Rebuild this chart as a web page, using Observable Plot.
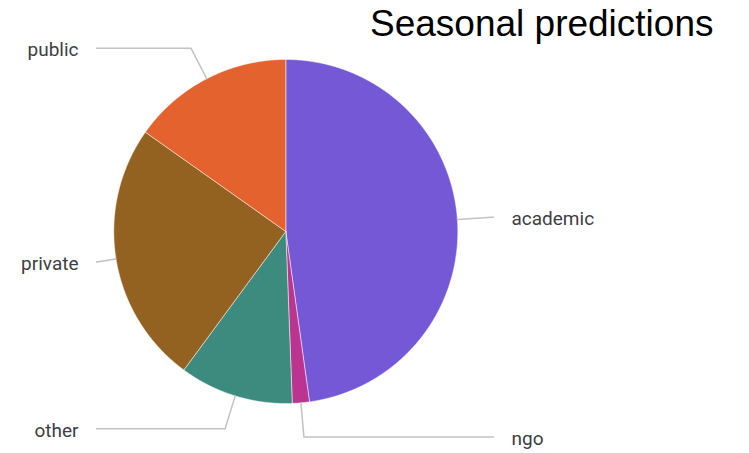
<!DOCTYPE html>
<html>
<head>
<meta charset="utf-8">
<script src="https://cdn.jsdelivr.net/npm/d3@7"></script>
<script src="https://cdn.jsdelivr.net/npm/@observablehq/plot@0.6"></script>
<style>
  body { margin: 0; background: #fff; }
</style>
</head>
<body>
<div id="chart"></div>
<script>
// Share of seasonal predictions by sector (percent), clockwise from 12 o'clock
const categories = ["academic", "ngo", "other", "private", "public"];
const shares = [47.8, 1.6, 10.7, 24.7, 15.2];
const colors = ["#7458d6", "#ba3490", "#3d8a7e", "#936221", "#e3622d"];
const title = "Seasonal predictions";

const W = 749, H = 453;
const cx = 285.3, cy = 231, R = 172;

const arcs = d3.pie().sort(null).value(d => d.value)(
  categories.map((c, i) => ({category: c, value: shares[i]}))
);

// Each slice as a closed polygon in unit coordinates (radius 1)
const slicePoints = [];
for (const a of arcs) {
  const c = a.data.category;
  const n = Math.max(2, Math.ceil((a.endAngle - a.startAngle) / 0.004));
  slicePoints.push({category: c, x: 0, y: 0});
  for (let k = 0; k <= n; k++) {
    const t = a.startAngle + (a.endAngle - a.startAngle) * k / n;
    slicePoints.push({category: c, x: Math.sin(t), y: Math.cos(t)});
  }
  slicePoints.push({category: c, x: 0, y: 0});
}

// Leader lines: radial out from the slice edge, then horizontal to the label column
const leaderR = 1.2, leftEnd = -1.1, rightEnd = 1.207, gap = 0.105;
const leaders = [], labels = [];
for (const a of arcs) {
  const c = a.data.category;
  const m = (a.startAngle + a.endAngle) / 2;
  const ux = Math.sin(m), uy = Math.cos(m);
  const right = ux >= 0;
  const endX = right ? rightEnd : leftEnd;
  leaders.push({category: c, x: ux, y: uy});
  let ly;
  const px = leaderR * ux, py = leaderR * uy;
  if ((right && px > endX) || (!right && px < endX)) {
    const t = endX / ux;
    ly = t * uy;
    leaders.push({category: c, x: endX, y: ly});
  } else {
    ly = py;
    leaders.push({category: c, x: px, y: py});
    leaders.push({category: c, x: endX, y: py});
  }
  labels.push({category: c, x: endX + (right ? gap : -gap), y: ly, right});
}

const labelStyle = {
  text: "category",
  lineAnchor: "middle",
  dy: 2,
  fontSize: 19,
  fontFamily: "Roboto, 'Noto Sans', sans-serif",
  fill: "#3c4043"
};

const chart = Plot.plot({
  width: W,
  height: H,
  margin: 0,
  x: {domain: [-1, 1], range: [cx - R, cx + R], axis: null},
  y: {domain: [-1, 1], range: [cy + R, cy - R], axis: null},
  color: {domain: categories, range: colors},
  marks: [
    Plot.line(slicePoints, {
      x: "x", y: "y", z: "category",
      fill: "category", stroke: "white", strokeWidth: 0.5,
      curve: "linear"
    }),
    Plot.line(leaders, {
      x: "x", y: "y", z: "category",
      stroke: "#c2c2c2", strokeWidth: 1.5, curve: "linear"
    }),
    Plot.text(labels.filter(d => d.right), {x: "x", y: "y", textAnchor: "start", ...labelStyle}),
    Plot.text(labels.filter(d => !d.right), {x: "x", y: "y", textAnchor: "end", ...labelStyle}),
    Plot.text([title], {
      text: d => d,
      frameAnchor: "top-right",
      textAnchor: "end",
      lineAnchor: "top",
      dx: -36,
      dy: 9,
      fontSize: 37,
      fontFamily: "'Liberation Sans', Arial, sans-serif",
      fill: "#000"
    })
  ]
});

document.getElementById("chart").appendChild(chart);
</script>
</body>
</html>
